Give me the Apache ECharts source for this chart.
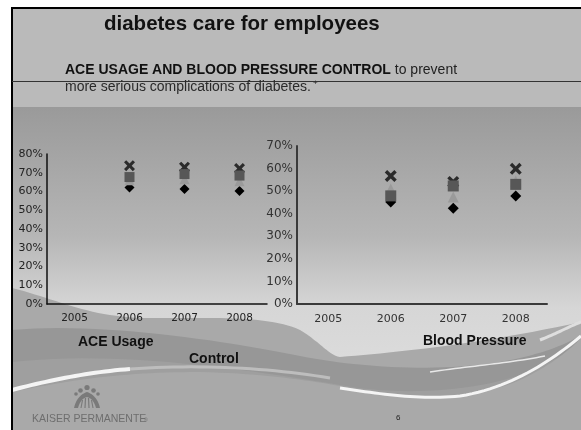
<!DOCTYPE html>
<html><head><meta charset="utf-8">
<script src="https://cdn.jsdelivr.net/npm/echarts@6/dist/echarts.min.js"></script>
<style>html,body{margin:0;padding:0;background:#fff}#c{width:581px;height:430px}</style>
</head><body><div id="c"></div>
<script>
// ---- data ----
const years = ['2005', '2006', '2007', '2008'];
// ACE Usage (left chart), percent
const aceDiamond  = [null, 62.1, 61.3, 60.3];
const aceTriangle = [null, 66.0, 66.5, 65.5];
const aceSquare   = [null, 67.7, 69.3, 68.5];
const aceCross    = [null, 73.8, 73.0, 72.3];
// Blood Pressure Control (right chart), percent
const bpDiamond  = [null, 45.2, 42.4, 47.9];
const bpTriangle = [null, 51.0, 47.4, 54.5];
const bpSquare   = [null, 47.9, 52.3, 53.0];
const bpCross    = [null, 56.7, 54.1, 59.9];
const aceTicks = {min: 0, max: 80, interval: 10};
const bpTicks  = {min: 0, max: 70, interval: 10};

const crossPath = 'path://M2,0 L5,3 L8,0 L10,2 L7,5 L10,8 L8,10 L5,7 L2,10 L0,8 L3,5 L0,2 Z';

function sc(name, data, xi, symbol, size, color, z) {
  return {name, type: 'scatter', xAxisIndex: xi, yAxisIndex: xi, data,
    symbol, symbolSize: size, itemStyle: {color, opacity: 1}, z, silent: true};
}

// decoration helper: sample a simple path (M, C, L) into points
function pts(d) {
  const tok = d.match(/[MCLZ]|-?[\d.]+/g);
  const out = []; let i = 0, cx = 0, cy = 0, cmd = 'M';
  while (i < tok.length) {
    const t = tok[i];
    if (/[MCLZ]/.test(t)) { cmd = t; i++; if (t === 'Z') continue; }
    if (cmd === 'M' || cmd === 'L') {
      cx = +tok[i]; cy = +tok[i + 1]; i += 2; out.push([cx, cy]);
    } else if (cmd === 'C') {
      const a = tok.slice(i, i + 6).map(Number); i += 6;
      for (let k = 1; k <= 24; k++) {
        const s = k / 24, u = 1 - s;
        out.push([u*u*u*cx + 3*u*u*s*a[0] + 3*u*s*s*a[2] + s*s*s*a[4],
                  u*u*u*cy + 3*u*u*s*a[1] + 3*u*s*s*a[3] + s*s*s*a[5]]);
      }
      cx = a[4]; cy = a[5];
    }
  }
  return out;
}
function fillShape(d, fill, z) { return {type: 'polygon', shape: {points: pts(d)}, style: {fill}, z, silent: true}; }
function strokeShape(d, stroke, w, z) { return {type: 'polyline', shape: {points: pts(d)}, style: {stroke, lineWidth: w, fill: null}, z, silent: true}; }

const chart = echarts.init(document.getElementById('c'), null, {renderer: 'canvas'});
const F = '"Liberation Sans", Arial, sans-serif';
const bg = [
  {type: 'rect', shape: {x: 0, y: 0, width: 581, height: 430}, style: {fill: '#ffffff'}, z: -100},
  {type: 'rect', shape: {x: 11, y: 7, width: 570, height: 100}, style: {fill: '#bababa'}, z: -99},
  {type: 'rect', shape: {x: 11, y: 107, width: 570, height: 323},
    style: {fill: new echarts.graphic.LinearGradient(0, 0, 0, 1, [
      {offset: 0, color: '#9a9a9a'}, {offset: 0.4, color: '#b6b6b6'},
      {offset: 0.62, color: '#d6d6d6'}, {offset: 1, color: '#e2e2e2'}])}, z: -99},
  fillShape('M12,288 C60,300 90,318 150,318 C220,318 270,316 300,330 C320,342 330,356 340,357 C400,352 480,344 581,322 L581,430 L12,430 Z', '#a9a9a9', -98),
  fillShape('M12,330 C100,322 220,340 300,356 C360,368 440,372 500,362 C540,355 565,345 581,335 L581,430 L12,430 Z', '#979797', -97),
  fillShape('M12,362 C120,350 250,370 340,385 C400,396 470,392 520,375 C550,365 570,350 581,340 L581,430 L12,430 Z', '#9f9f9f', -96),
  fillShape('M12,392 C80,378 130,372 200,372 C280,374 330,384 360,390 C420,402 480,398 520,380 C550,366 570,350 581,338 L581,430 L12,430 Z', '#a9a9a9', -95),
  strokeShape('M12,390 C50,380 90,372 130,369', '#f4f4f4', 4, -94),
  strokeShape('M130,369 C200,364 270,368 330,378', '#bdbdbd', 3, -94),
  strokeShape('M340,388 C380,394 420,400 460,396 C510,388 550,362 581,336', '#f4f4f4', 3, -94),
  strokeShape('M430,372 C470,366 510,363 545,356', '#e8e8e8', 1.5, -94),
  strokeShape('M540,340 C560,332 570,326 581,322', '#dedede', 3, -94),
  // frame
  {type: 'line', shape: {x1: 12, y1: 7, x2: 12, y2: 430}, style: {stroke: '#000', lineWidth: 2}, z: 50},
  {type: 'line', shape: {x1: 11, y1: 8, x2: 581, y2: 8}, style: {stroke: '#000', lineWidth: 2}, z: 50},
  {type: 'line', shape: {x1: 12, y1: 81.5, x2: 581, y2: 81.5}, style: {stroke: '#333', lineWidth: 1}, z: 50},
  // logo
  {type: 'circle', shape: {cx: 87, cy: 387.5, r: 2.6}, style: {fill: '#7a7a7a'}, z: 50},
  {type: 'circle', shape: {cx: 80.5, cy: 390.5, r: 2.3}, style: {fill: '#7a7a7a'}, z: 50},
  {type: 'circle', shape: {cx: 93.5, cy: 390.5, r: 2.3}, style: {fill: '#7a7a7a'}, z: 50},
  {type: 'circle', shape: {cx: 76, cy: 394, r: 1.8}, style: {fill: '#7a7a7a'}, z: 50},
  {type: 'circle', shape: {cx: 98, cy: 394, r: 1.8}, style: {fill: '#7a7a7a'}, z: 50},
  fillShape('M74,408 C76,399 81,394 87,392 C93,394 98,399 100,408 L96,408 C94,401 91,398 87,397 C83,398 80,401 78,408 Z', '#7a7a7a', 50),
  {type: 'line', shape: {x1: 81, y1: 408, x2: 82.5, y2: 400}, style: {stroke: '#7a7a7a', lineWidth: 1.2}, z: 50},
  {type: 'line', shape: {x1: 85, y1: 408, x2: 85.5, y2: 398}, style: {stroke: '#7a7a7a', lineWidth: 1.2}, z: 50},
  {type: 'line', shape: {x1: 89, y1: 408, x2: 88.5, y2: 398}, style: {stroke: '#7a7a7a', lineWidth: 1.2}, z: 50},
  {type: 'line', shape: {x1: 93, y1: 408, x2: 91.5, y2: 400}, style: {stroke: '#7a7a7a', lineWidth: 1.2}, z: 50},
  // texts
  {type: 'text', x: 104, y: 24, style: {text: 'diabetes care for employees', font: 'bold 20.5px ' + F, fill: '#111', verticalAlign: 'middle'}, z: 60},
  {type: 'text', x: 65, y: 70, style: {text: '{b|ACE USAGE AND BLOOD PRESSURE CONTROL}{n| to prevent}', fill: '#111', verticalAlign: 'middle',
    rich: {b: {font: 'bold 14px ' + F, fill: '#111'}, n: {font: '14px ' + F, fill: '#222'}}}, z: 60},
  {type: 'text', x: 65, y: 87, style: {text: 'more serious complications of diabetes.', fill: '#2a2a2a', verticalAlign: 'middle',
    font: '14px ' + F}, z: 60},
  {type: 'text', x: 313, y: 83, style: {text: '+', fill: '#2a2a2a', verticalAlign: 'middle', font: '8px ' + F}, z: 60},
  {type: 'text', x: 78, y: 342, style: {text: 'ACE Usage', font: 'bold 14px ' + F, fill: '#111', verticalAlign: 'middle'}, z: 60},
  {type: 'text', x: 189, y: 359, style: {text: 'Control', font: 'bold 14px ' + F, fill: '#111', verticalAlign: 'middle'}, z: 60},
  {type: 'text', x: 423, y: 341, style: {text: 'Blood Pressure', font: 'bold 14px ' + F, fill: '#111', verticalAlign: 'middle'}, z: 60},
  {type: 'text', x: 32, y: 419, style: {text: 'KAISER PERMANENTE', font: '10.5px ' + F, fill: '#6e6e6e', verticalAlign: 'middle'}, z: 60},
  {type: 'text', x: 144, y: 421, style: {text: '®', font: '5px ' + F, fill: '#6e6e6e', verticalAlign: 'middle'}, z: 60},
  {type: 'text', x: 396, y: 418, style: {text: '6', font: '8px ' + F, fill: '#222', verticalAlign: 'middle'}, z: 60}
];

const axisLabelL = {fontFamily: '"DejaVu Sans", sans-serif', fontSize: 11, color: '#222'};
const axisLabelR = {fontFamily: '"DejaVu Sans", sans-serif', fontSize: 12, color: '#333'};

chart.setOption({
  animation: false,
  backgroundColor: 'transparent',
  graphic: {elements: bg},
  grid: [
    {left: 47, top: 154, width: 220, height: 150},
    {left: 297, top: 146, width: 250, height: 158}
  ],
  xAxis: [
    {gridIndex: 0, type: 'category', data: years, boundaryGap: true,
      axisLine: {lineStyle: {color: '#111', width: 1.5}}, axisTick: {show: false},
      axisLabel: Object.assign({margin: 9}, axisLabelL, {fontSize: 10.5})},
    {gridIndex: 1, type: 'category', data: years, boundaryGap: true,
      axisLine: {lineStyle: {color: '#3a3a3a', width: 2}}, axisTick: {show: false},
      axisLabel: Object.assign({margin: 10}, axisLabelR, {fontSize: 11})}
  ],
  yAxis: [
    {gridIndex: 0, type: 'value', min: aceTicks.min, max: aceTicks.max, interval: aceTicks.interval,
      axisLine: {show: true, lineStyle: {color: '#111', width: 1.5}}, axisTick: {show: false}, splitLine: {show: false},
      axisLabel: Object.assign({margin: 4, formatter: '{value}%'}, axisLabelL)},
    {gridIndex: 1, type: 'value', min: bpTicks.min, max: bpTicks.max, interval: bpTicks.interval,
      axisLine: {show: true, lineStyle: {color: '#3a3a3a', width: 2}}, axisTick: {show: false}, splitLine: {show: false},
      axisLabel: Object.assign({margin: 4, formatter: '{value}%'}, axisLabelR)}
  ],
  series: [
    sc('Series 1', aceDiamond, 0, 'diamond', 10, '#000000', 2),
    sc('Series 4', aceCross, 0, crossPath, 11, '#2b2b2b', 3),
    sc('Series 3', aceTriangle, 0, 'triangle', 10, '#9a9a9a', 4),
    sc('Series 2', aceSquare, 0, 'rect', 10, '#575757', 5),
    sc('Series 1', bpDiamond, 1, 'diamond', 11, '#000000', 2),
    sc('Series 4', bpCross, 1, crossPath, 12, '#2b2b2b', 3),
    sc('Series 3', bpTriangle, 1, 'triangle', 11, '#9a9a9a', 4),
    sc('Series 2', bpSquare, 1, 'rect', 11, '#575757', 5)
  ]
});
</script></body></html>
